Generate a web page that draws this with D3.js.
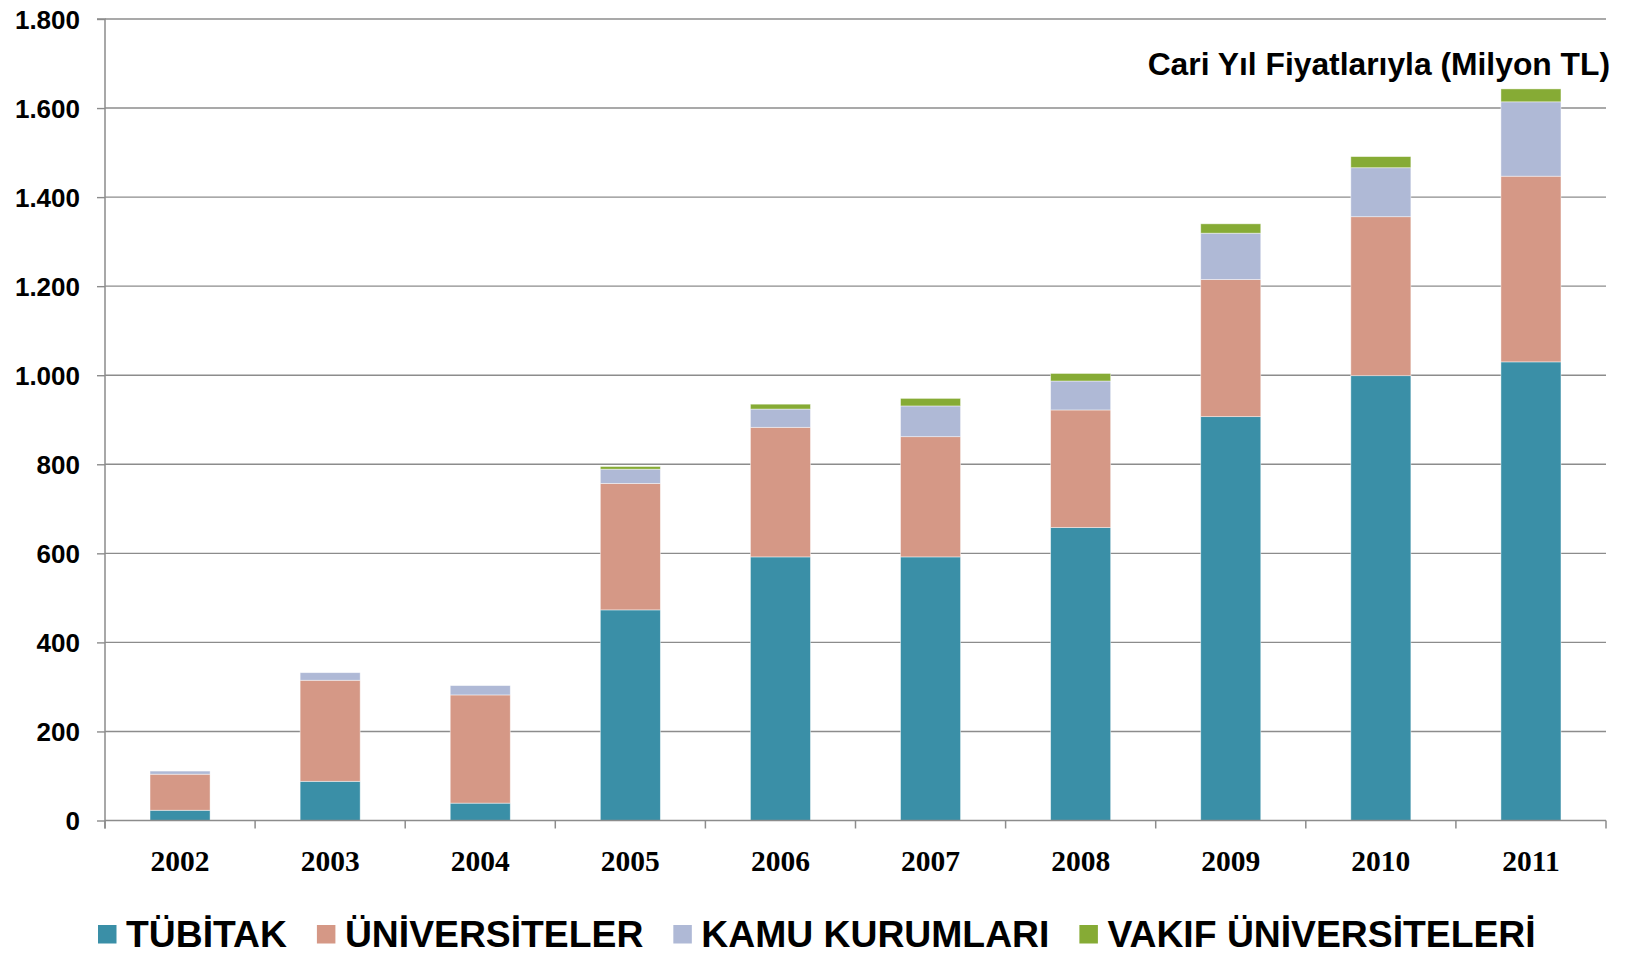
<!DOCTYPE html>
<html>
<head>
<meta charset="utf-8">
<script src="https://cdn.jsdelivr.net/npm/d3@7"></script>
<style>
  html, body { margin: 0; padding: 0; background: #fff; }
  svg { display: block; }
</style>
</head>
<body>
<svg id="chart" width="1627" height="955"></svg>
<script>
// ---- data ----
const years = ["2002","2003","2004","2005","2006","2007","2008","2009","2010","2011"];
const seriesNames = ["TÜBİTAK","ÜNİVERSİTELER","KAMU KURUMLARI","VAKIF ÜNİVERSİTELERİ"];
const tubitak       = [23, 88, 39, 473, 592, 592, 658, 907, 999, 1030];
const universiteler = [81, 227, 243, 284, 291, 270, 264, 308, 357, 417];
const kamu          = [7, 17, 21, 32, 41, 69, 65, 104, 110, 167];
const vakif         = [0, 0, 0, 6, 11, 17, 17, 21, 25, 29];
const yTicks = [0, 200, 400, 600, 800, 1000, 1200, 1400, 1600, 1800];
const titleText = "Cari Yıl Fiyatlarıyla (Milyon TL)";
const colors = ["#3A8FA7", "#D59886", "#AFB9D6", "#86AB35"];

// ---- layout ----
const svg = d3.select("#chart");
const plotLeft = 105, plotRight = 1606, plotTop = 19, plotBottom = 820.5;

const x = d3.scaleBand().domain(years).range([plotLeft, plotRight]).paddingInner(0.6).paddingOuter(0.3);
const y = d3.scaleLinear().domain([0, 1800]).range([plotBottom, plotTop]);

const fmt = d3.formatLocale({decimal: ",", thousands: ".", grouping: [3], currency: ["", ""]}).format(",d");

// gridlines
svg.append("g").selectAll("line").data(yTicks.filter(d => d > 0)).join("line")
  .attr("x1", plotLeft).attr("x2", plotRight)
  .attr("y1", d => y(d)).attr("y2", d => y(d))
  .attr("stroke", "#8c8c8c").attr("stroke-width", 1.4);

// stacked bars
const table = years.map((yr, i) => ({year: yr, s0: tubitak[i], s1: universiteler[i], s2: kamu[i], s3: vakif[i]}));
const stack = d3.stack().keys(["s0","s1","s2","s3"])(table);
const gBars = svg.append("g");
stack.forEach((layer, li) => {
  gBars.append("g").attr("fill", colors[li]).selectAll("rect")
    .data(layer.filter(d => d[1] - d[0] > 0)).join("rect")
    .attr("x", d => x(d.data.year))
    .attr("width", x.bandwidth())
    .attr("y", d => y(d[1]))
    .attr("height", d => y(d[0]) - y(d[1]))
    .attr("stroke", "#ffffff").attr("stroke-opacity", 0.55).attr("stroke-width", 0.8);
});

// y axis
const yAxis = d3.axisLeft(y).tickValues(yTicks).tickFormat(fmt).tickSize(8).tickPadding(17);
const gy = svg.append("g").attr("transform", `translate(${plotLeft},0)`).call(yAxis);
gy.select(".domain").attr("stroke", "#8c8c8c").attr("stroke-width", 1.5)
  .attr("d", `M-8,${y(1800)}H0V${plotBottom + 8}`);
gy.selectAll(".tick line").attr("stroke", "#8c8c8c").attr("stroke-width", 1.4);
gy.selectAll(".tick text")
  .attr("font-family", "Liberation Sans, Arial, sans-serif")
  .attr("font-weight", "bold").attr("font-size", 26).attr("fill", "#000")
  .attr("dy", "0.36em");

// x axis
const xAxis = d3.axisBottom(x).tickSize(0).tickPadding(0);
const gx = svg.append("g").attr("transform", `translate(0,${plotBottom})`).call(xAxis);
gx.select(".domain").attr("stroke", "#8c8c8c").attr("stroke-width", 1.5)
  .attr("d", `M${plotLeft},0H${plotRight}`);
gx.selectAll(".tick text")
  .attr("font-family", "Liberation Serif, Cambria, serif")
  .attr("font-weight", "bold").attr("font-size", 29.5).attr("fill", "#000")
  .attr("y", 50).attr("dy", null);
// category boundary ticks
const step = x.step();
const bounds = d3.range(years.length + 1).map(i => x(years[0]) - x.paddingOuter() * step + i * step);
gx.append("g").selectAll("line").data(bounds).join("line")
  .attr("x1", d => d).attr("x2", d => d).attr("y1", 0).attr("y2", 8)
  .attr("stroke", "#8c8c8c").attr("stroke-width", 1.5);

// title
svg.append("text").attr("x", 1610).attr("y", 75).attr("text-anchor", "end")
  .attr("font-family", "Liberation Sans, Arial, sans-serif")
  .attr("font-weight", "bold").attr("font-size", 31.8).attr("fill", "#000")
  .text(titleText);

// legend
const legend = svg.append("g");
let lx = 98;
seriesNames.forEach((name, i) => {
  legend.append("rect").attr("x", lx).attr("y", 925).attr("width", 18.5).attr("height", 18.5).attr("fill", colors[i]);
  const t = legend.append("text").attr("x", lx + 28).attr("y", 947)
    .attr("font-family", "Liberation Sans, Arial, sans-serif")
    .attr("font-weight", "bold").attr("font-size", 37.3).attr("fill", "#000")
    .text(name);
  lx += 28 + t.node().getComputedTextLength() + 30;
});
</script>
</body>
</html>
